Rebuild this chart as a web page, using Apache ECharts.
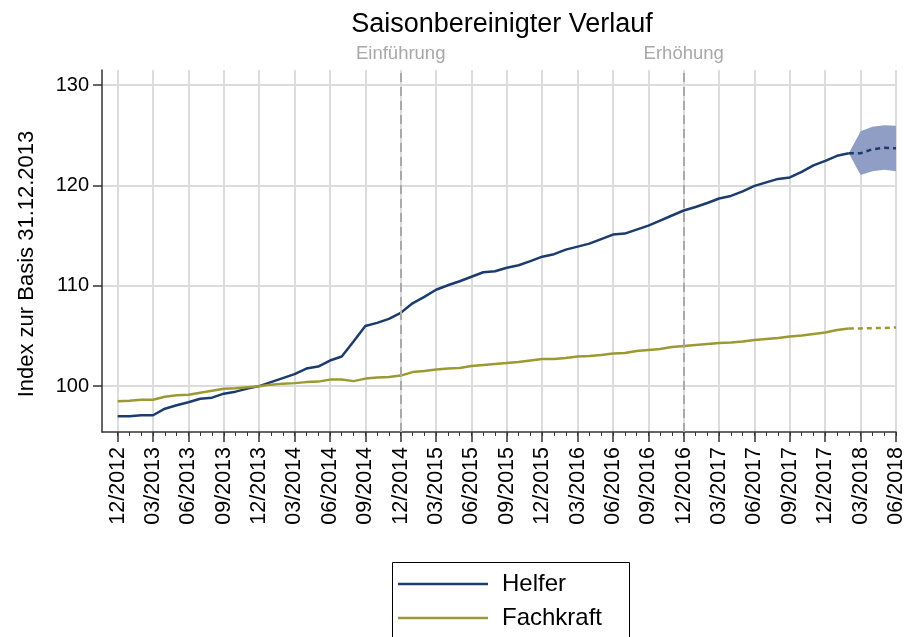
<!DOCTYPE html>
<html>
<head>
<meta charset="utf-8">
<script src="https://cdn.jsdelivr.net/npm/echarts@6/dist/echarts.min.js"></script>
<style>
  html, body { margin: 0; padding: 0; background: #fff; }
  #chart { width: 907px; height: 637px; }
</style>
</head>
<body>
<div id="chart"></div>
<script>
// Monthly periods, 12/2012 .. 06/2018
const months = [
  '12/2012','01/2013','02/2013','03/2013','04/2013','05/2013','06/2013','07/2013','08/2013','09/2013','10/2013','11/2013',
  '12/2013','01/2014','02/2014','03/2014','04/2014','05/2014','06/2014','07/2014','08/2014','09/2014','10/2014','11/2014',
  '12/2014','01/2015','02/2015','03/2015','04/2015','05/2015','06/2015','07/2015','08/2015','09/2015','10/2015','11/2015',
  '12/2015','01/2016','02/2016','03/2016','04/2016','05/2016','06/2016','07/2016','08/2016','09/2016','10/2016','11/2016',
  '12/2016','01/2017','02/2017','03/2017','04/2017','05/2017','06/2017','07/2017','08/2017','09/2017','10/2017','11/2017',
  '12/2017','01/2018','02/2018','03/2018','04/2018','05/2018','06/2018'
];

// Seasonally adjusted index (31.12.2013 = 100), observed values up to 02/2018
const helfer = [
  97.0, 97.0, 97.1, 97.1, 97.75, 98.1, 98.4, 98.75, 98.85, 99.25, 99.45, 99.75,
  100.0, 100.4, 100.8, 101.2, 101.75, 101.95, 102.55, 102.95, 104.45, 106.0, 106.3, 106.7,
  107.3, 108.25, 108.9, 109.6, 110.05, 110.45, 110.9, 111.35, 111.45, 111.8, 112.05, 112.45,
  112.9, 113.15, 113.6, 113.9, 114.2, 114.65, 115.1, 115.2, 115.6, 116.0, 116.5, 117.0,
  117.5, 117.85, 118.25, 118.7, 118.95, 119.4, 119.95, 120.3, 120.65, 120.8, 121.35, 122.0,
  122.45, 122.95, 123.2
];
const fachkraft = [
  98.5, 98.55, 98.65, 98.65, 98.95, 99.1, 99.15, 99.35, 99.55, 99.75, 99.8, 99.9,
  100.0, 100.15, 100.25, 100.3, 100.4, 100.45, 100.65, 100.65, 100.5, 100.75, 100.85, 100.9,
  101.05, 101.4, 101.5, 101.65, 101.75, 101.8, 102.0, 102.1, 102.2, 102.3, 102.4, 102.55,
  102.7, 102.7, 102.8, 102.95, 103.0, 103.1, 103.25, 103.3, 103.5, 103.6, 103.7, 103.9,
  104.0, 104.1, 104.2, 104.3, 104.35, 104.45, 104.6, 104.7, 104.8, 104.95, 105.05, 105.2,
  105.35, 105.6, 105.75
];

// Projection 02/2018 .. 06/2018 (first entry continues the observed series)
const forecastStart = 62;
const helferForecast = [123.2, 123.2, 123.6, 123.75, 123.7];
const helferLower    = [123.2, 121.05, 121.4, 121.55, 121.4];
const helferUpper    = [123.2, 125.4, 125.85, 126.0, 125.95];
const fachkraftForecast = [105.75, 105.75, 105.78, 105.8, 105.85];

// Policy events marked on the time axis
const events = [
  { month: '12/2014', label: 'Einführung' },
  { month: '12/2016', label: 'Erhöhung' }
];

const yTicks = [100, 110, 120, 130];
const xLabelMonths = months.filter((m, i) => i % 3 === 0);

const colHelfer = '#1c3c6e';
const colFach = '#9b9a32';
const colBand = '#909dc4';
const font = 'Liberation Sans, Arial, sans-serif';

const idx = m => months.indexOf(m);
const toPairs = (arr, start) => arr.map((v, i) => [start + i, v]);
const xMajor = xLabelMonths.map(idx);
const xMinor = months.map((m, i) => i);

// Confidence band drawn as one polygon: upper edge forward, lower edge back
function renderBand(params, api) {
  const pts = [];
  helferUpper.forEach((v, i) => pts.push(api.coord([forecastStart + i, v])));
  for (let i = helferLower.length - 1; i >= 0; i--) {
    pts.push(api.coord([forecastStart + i, helferLower[i]]));
  }
  return {
    type: 'polygon',
    shape: { points: pts },
    style: { fill: colBand }
  };
}

// One legend entry per row inside the framed box
const legendEntry = (name, top) => ({
  data: [{ name: name, icon: 'rect' }],
  orient: 'vertical', left: 398, top: top,
  itemWidth: 90, itemHeight: 2.5,
  padding: 0,
  textStyle: { fontSize: 24, color: '#000', fontFamily: font, padding: [0, 0, 0, 9] }
});

const chart = echarts.init(document.getElementById('chart'), null, { renderer: 'canvas' });

chart.setOption({
  animation: false,
  backgroundColor: '#fff',
  textStyle: { fontFamily: font },
  title: {
    text: 'Saisonbereinigter Verlauf',
    left: 497, top: 6, textAlign: 'center',
    textStyle: { fontFamily: font, fontSize: 27, fontWeight: 'normal', color: '#000' }
  },
  grid: { left: 102, right: 10, top: 70, bottom: 205, containLabel: false },
  xAxis: [
    {
      type: 'value', position: 'bottom',
      min: -1.33, max: 66,
      axisLine: { show: true, onZero: false, lineStyle: { color: '#333', width: 1.5 } },
      axisTick: { show: true, length: 10, customValues: xMajor, lineStyle: { color: '#333', width: 1.5 } },
      axisLabel: {
        customValues: xMajor, rotate: 90, margin: 15,
        fontSize: 21.5, color: '#000', fontFamily: font,
        formatter: v => months[Math.round(v)]
      },
      splitLine: { show: true, lineStyle: { color: '#dcdcdc', width: 2 } }
    },
    {
      type: 'value', position: 'bottom',
      min: -1.33, max: 66,
      axisLine: { show: false, onZero: false },
      axisTick: { show: true, length: 4, customValues: xMinor, lineStyle: { color: '#333', width: 1 } },
      axisLabel: { show: false },
      splitLine: { show: false }
    }
  ],
  yAxis: {
    type: 'value',
    min: 95.43, max: 131.5,
    name: 'Index zur Basis 31.12.2013',
    nameLocation: 'middle', nameGap: 64, nameRotate: 90,
    nameTextStyle: { fontSize: 22, color: '#000', fontFamily: font, padding: [0, 26, 0, 0] },
    axisLine: { show: true, onZero: false, lineStyle: { color: '#333', width: 1.5 } },
    axisTick: { show: true, length: 9, customValues: yTicks, lineStyle: { color: '#333', width: 1.5 } },
    axisLabel: { customValues: yTicks, fontSize: 20, color: '#000', margin: 13, fontFamily: font },
    splitLine: { show: true, lineStyle: { color: '#dcdcdc', width: 2 } }
  },
  legend: [legendEntry('Helfer', 572), legendEntry('Fachkraft', 606)],
  graphic: [{
    type: 'rect', left: 390, top: 560, silent: true,
    shape: { width: 237, height: 90 },
    style: { fill: 'none', stroke: '#000', lineWidth: 1 }
  }],
  series: [
    {
      name: 'band', type: 'custom', xAxisIndex: 0,
      renderItem: renderBand, data: [0], silent: true, z: 1
    },
    {
      name: 'Helfer', type: 'line', xAxisIndex: 0,
      data: toPairs(helfer, 0),
      symbol: 'none', color: colHelfer,
      lineStyle: { color: colHelfer, width: 2.5 }, z: 3,
      markLine: {
        silent: true, symbol: 'none',
        lineStyle: { color: '#a9a9a9', type: [9, 5], width: 2 },
        label: { position: 'end', distance: 7, color: '#a8a8a8', fontSize: 18.5, fontFamily: font },
        data: events.map(e => ({ xAxis: idx(e.month), label: { formatter: e.label } }))
      }
    },
    {
      name: 'Helfer Prognose', type: 'line', xAxisIndex: 0,
      data: toPairs(helferForecast, forecastStart),
      symbol: 'none',
      lineStyle: { color: colHelfer, width: 2.5, type: [5, 4] }, z: 3
    },
    {
      name: 'Fachkraft', type: 'line', xAxisIndex: 0,
      data: toPairs(fachkraft, 0),
      symbol: 'none', color: colFach,
      lineStyle: { color: colFach, width: 2.5 }, z: 3
    },
    {
      name: 'Fachkraft Prognose', type: 'line', xAxisIndex: 0,
      data: toPairs(fachkraftForecast, forecastStart),
      symbol: 'none',
      lineStyle: { color: colFach, width: 2.5, type: [5, 4] }, z: 3
    }
  ]
});
</script>
</body>
</html>
